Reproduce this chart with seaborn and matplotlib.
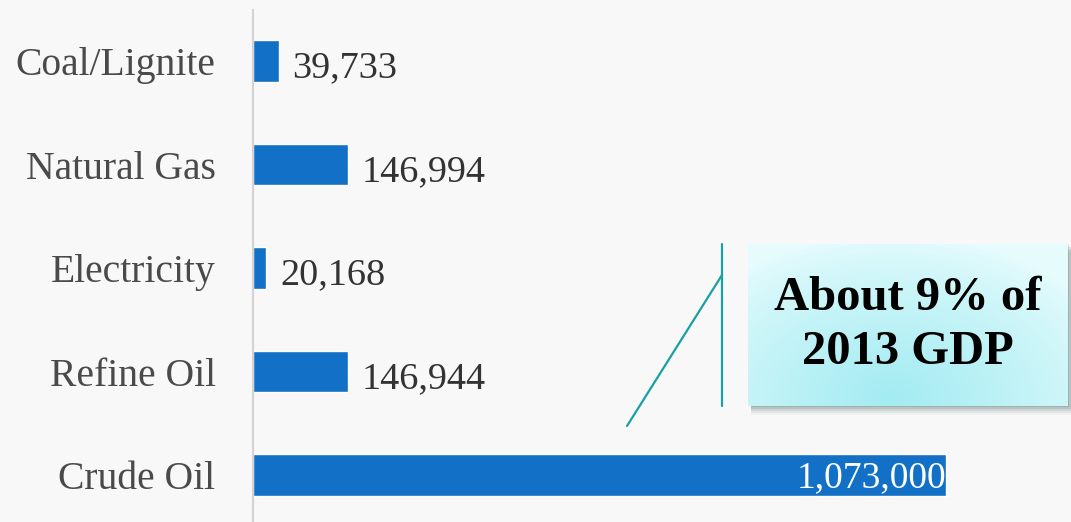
import numpy as np
import pandas as pd
import matplotlib
matplotlib.use("Agg")
import matplotlib.pyplot as plt
import matplotlib.patches as mpatches
import seaborn as sns

# data
categories = ["Coal/Lignite", "Natural Gas", "Electricity", "Refine Oil", "Crude Oil"]
values = [39733, 146994, 20168, 146944, 1073000]
value_labels = ["39,733", "146,994", "20,168", "146,944", "1,073,000"]
callout_text = "About 9% of\n2013 GDP"

BAR_COLOR = "#1270c6"
BG = "#f8f8f8"
TEAL = "#1aa0a2"

sns.set_theme(style="white")
plt.rcParams["font.family"] = ["Liberation Serif", "DejaVu Serif"]

W, H = 1071, 522
fig = plt.figure(figsize=(W / 100, H / 100), dpi=100, facecolor=BG)
ax = fig.add_axes([253 / W, 0, 1 - 253 / W, (H - 10) / H])
ax.set_facecolor(BG)

df = pd.DataFrame({"category": categories, "value": values})
sns.barplot(data=df, x="value", y="category", color=BAR_COLOR, width=0.4,
            saturation=1, ax=ax, orient="h")

ax.set_xlim(0, 1073000 * 818 / 693)
ax.set_ylim(4.454, -0.493)
ax.set_xlabel("")
ax.set_ylabel("")
ax.set_xticks([])
for s in ["top", "right", "bottom"]:
    ax.spines[s].set_visible(False)
ax.spines["left"].set_color("#d3d3d3")
ax.spines["left"].set_linewidth(1.5)
ax.tick_params(axis="y", length=0, pad=27, labelsize=28.5, labelcolor="#4a4a4a")

# value labels
for i, (v, lab) in enumerate(zip(values, value_labels)):
    if v == max(values):
        ax.annotate(lab, (v, i), xytext=(0, -2), textcoords="offset points",
                    ha="right", va="center", fontsize=27, color="white")
    else:
        ax.annotate(lab, (v, i), xytext=(10, -5), textcoords="offset points",
                    ha="left", va="center", fontsize=27.5, color="#333333")

# callout box: shadow, gradient fill, text
bx0, by0, bx1, by1 = 748, 244, 1068, 406
for k, a in zip(range(9, 0, -2), [0.04, 0.07, 0.10, 0.13, 0.16]):
    fig.patches.append(mpatches.Rectangle(
        ((bx0 + 3) / W, (H - by1 - k) / H), (bx1 - bx0 + k - 3) / W, (by1 - by0) / H,
        transform=fig.transFigure, facecolor="#2a4a4a", alpha=a, edgecolor="none", zorder=1))

bax = fig.add_axes([bx0 / W, (H - by1) / H, (bx1 - bx0) / W, (by1 - by0) / H], zorder=3)
yy, xx = np.mgrid[0:1:100j, 0:1:200j]
d = np.sqrt(((xx - 0.45) / 0.75) ** 2 + ((yy - 0.95) / 1.0) ** 2)
t = np.clip(1 - d, 0, 1) ** 0.8
c_edge = np.array([0.90, 0.985, 0.99])
c_mid = np.array([0.64, 0.925, 0.95])
img = c_edge + (c_mid - c_edge) * t[..., None]
bax.imshow(img, aspect="auto", extent=(0, 1, 0, 1), origin="upper")
bax.set_axis_off()
bax.text(0.5, 0.50, callout_text, ha="center", va="center", fontsize=35,
         fontweight="bold", color="black", linespacing=1.3, transform=bax.transAxes)

# callout leader lines
fig.add_artist(plt.Line2D([722 / W, 722 / W], [(H - 244) / H, (H - 406) / H],
                          color=TEAL, lw=1.6, transform=fig.transFigure))
fig.add_artist(plt.Line2D([627 / W, 722 / W], [(H - 426) / H, (H - 275) / H],
                          color=TEAL, lw=1.6, transform=fig.transFigure))

fig.savefig("out.png", dpi=100, facecolor=BG)
